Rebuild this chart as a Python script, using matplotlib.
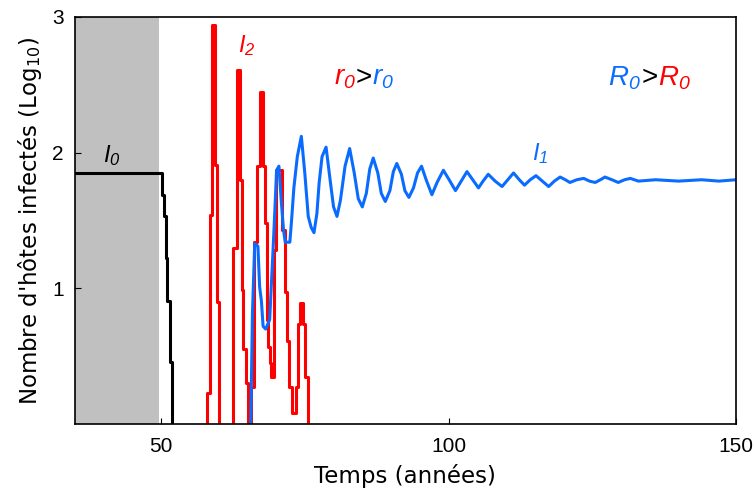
import matplotlib.pyplot as plt
from matplotlib.offsetbox import TextArea, HPacker, AnnotationBbox

# I0 : souche initiale (log10 du nombre d'hotes infectes)
t_i0 = [35, 50.12, 50.52, 50.82, 51.09, 51.51, 51.86]
log_i0 = [1.85, 1.69, 1.53, 1.22, 0.91, 0.46, -0.3]

# I2 : souche rouge
t_i2 = [57.9, 58.07, 58.5, 58.9, 59.38, 59.77, 60.07,
        62.55, 63.14, 63.66, 64.01, 64.29, 64.76, 65.2,
        65.71, 66.15, 66.72, 67.14, 67.71, 68.06, 68.35, 68.63, 68.92, 69.15,
        69.62, 70.02, 71.06, 71.53, 71.93, 72.22, 72.8, 73.39, 73.84, 74.25,
        74.7, 75.12, 75.57]
log_i2 = [-0.3, 0.23, 1.54, 2.94, 1.91, 0.90, -0.3,
          1.30, 2.61, 1.80, 0.99, 0.55, 0.30, -0.3,
          0.27, 1.34, 1.90, 2.45, 1.90, 1.48, 0.77, 0.57, 0.45, 0.35,
          1.28, 1.87, 1.43, 0.97, 0.61, 0.27, 0.08, 0.27, 0.74, 0.89,
          0.74, 0.35, -0.3]

# I1 : souche bleue
t_i1 = [65.5, 65.75, 65.9, 66.3, 66.85, 67.15, 67.45, 67.75, 68.2, 68.9,
        69.2, 69.5, 69.8, 70.1, 70.5, 70.9, 71.3, 71.6, 72.4, 72.7,
        73.1, 73.7, 74.4, 75.0, 75.6, 76.1, 76.6, 77.1, 77.5, 78.0,
        78.7, 79.4, 80.0, 80.6, 81.2, 82.0, 82.8, 83.6, 84.3, 85.0,
        85.7, 86.3, 86.9, 87.7, 88.3, 89.0, 89.8, 90.4, 91.0, 91.8,
        92.4, 93.1, 93.9, 94.6, 95.3, 96.1, 97.1, 98.0, 99.1, 100.1,
        101.2, 102.2, 103.2, 104.2, 105.2, 106.0, 106.9, 108.1, 109.3, 110.3,
        111.3, 112.3, 113.2, 114.2, 115.2, 116.3, 117.4, 118.4, 119.4, 120.3,
        121.1, 122.3, 123.5, 124.5, 125.5, 126.4, 127.2, 128.4, 129.5, 130.6,
        131.6, 133, 136, 140, 144, 147, 150]
log_i1 = [-0.3, 0.40, 0.82, 1.33, 1.31, 1.01, 0.91, 0.72, 0.70, 0.77,
          1.04, 1.30, 1.58, 1.87, 1.90, 1.65, 1.43, 1.34, 1.34, 1.50,
          1.74, 1.97, 2.12, 1.85, 1.53, 1.45, 1.41, 1.55, 1.78, 1.97,
          2.04, 1.80, 1.60, 1.53, 1.65, 1.90, 2.03, 1.85, 1.66, 1.60,
          1.70, 1.88, 1.96, 1.85, 1.70, 1.64, 1.72, 1.86, 1.92, 1.84,
          1.72, 1.67, 1.74, 1.85, 1.90, 1.80, 1.69, 1.78, 1.87, 1.80,
          1.72, 1.79, 1.86, 1.80, 1.74, 1.79, 1.84, 1.79, 1.75, 1.80,
          1.85, 1.80, 1.76, 1.80, 1.83, 1.79, 1.75, 1.79, 1.82, 1.80,
          1.78, 1.80, 1.81, 1.79, 1.78, 1.80, 1.82, 1.80, 1.78, 1.80,
          1.81, 1.79, 1.80, 1.79, 1.80, 1.79, 1.80]

red = '#ff0000'
blue = '#0a6cff'
ital = dict(family='Liberation Sans', style='italic')

fig, ax = plt.subplots(figsize=(7.55, 4.96), dpi=100)
fig.subplots_adjust(left=0.099, right=0.975, bottom=0.145, top=0.966)

ax.axvspan(35, 49.7, color='#c0c0c0', lw=0)
ax.plot(t_i0, log_i0, color='black', lw=2.2, drawstyle='steps-post')
ax.plot(t_i2, log_i2, color=red, lw=2.2, drawstyle='steps-post')
ax.plot(t_i1, log_i1, color=blue, lw=2.2)

ax.set_xlim(35, 150)
ax.set_ylim(0, 3)
ax.set_xticks([50, 100, 150])
ax.set_yticks([1, 2, 3])
ax.tick_params(direction='in', length=4, labelsize=15,
               labelfontfamily='Liberation Sans')
ax.tick_params(axis='x', pad=9)
ax.tick_params(axis='y', pad=8)
for sp in ax.spines.values():
    sp.set_linewidth(1.2)

ax.set_xlabel('Temps (années)', fontsize=16.5, labelpad=6)
ax.set_ylabel("Nombre d'hôtes infectés (Log$_{10}$)", fontsize=16.5, labelpad=6)

# etiquettes des courbes
ax.text(41.5, 1.98, r'$\mathregular{I_0}$', color='black', fontsize=17,
        ha='center', va='center', **ital)
ax.text(64.9, 2.79, r'$\mathregular{I_2}$', color=red, fontsize=17,
        ha='center', va='center', **ital)
ax.text(116.0, 1.99, r'$\mathregular{I_1}$', color=blue, fontsize=17,
        ha='center', va='center', **ital)


def colored(parts, xy):
    boxes = []
    for s, c in parts:
        if s == '>':
            props = dict(color=c, fontsize=20, family='Liberation Sans')
        else:
            props = dict(color=c, fontsize=20, **ital)
        boxes.append(TextArea(s, textprops=props))
    pack = HPacker(children=boxes, align='baseline', pad=0, sep=0)
    ab = AnnotationBbox(pack, xy, xycoords='data', frameon=False,
                        box_alignment=(0, 0.5), pad=0)
    ax.add_artist(ab)


colored([(r'$\mathregular{r_0}$', red), ('>', 'black'), (r'$\mathregular{r_0}$', blue)], (80.0, 2.55))
colored([(r'$\mathregular{R_0}$', blue), ('>', 'black'), (r'$\mathregular{R_0}$', red)], (127.8, 2.55))

fig.savefig('out.png', dpi=100)
